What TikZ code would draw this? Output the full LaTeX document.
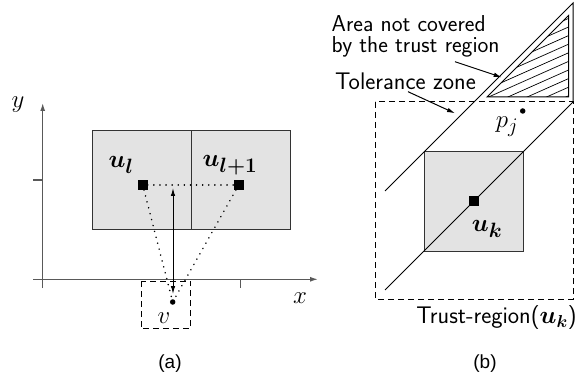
\documentclass[tikz,border=0pt]{standalone}
\usepackage{fontspec}
\usepackage{bm}
\newfontfamily\arialf{Liberation Sans}
\usetikzlibrary{arrows.meta}
\begin{document}
\begin{tikzpicture}[x=1pt,y=-1pt,
  ax/.style={draw=black!65,line width=1.3pt},
  axarrow/.style={ax,-{Latex[length=8pt,width=5pt]}},
  box/.style={draw=black!80,line width=1pt,fill=black!11},
  sq/.style={fill=black,minimum size=10pt,inner sep=0pt,outer sep=0pt},
  pt/.style={circle,fill=black,minimum size=5.5pt,inner sep=0pt},
  dots/.style={line width=1.6pt,dash pattern=on 0.1pt off 6pt,line cap=round},
  dbox/.style={draw,line width=1pt,dash pattern=on 6pt off 4pt},
  lbl/.style={font=\fontsize{24}{20}\selectfont\sffamily,inner sep=0pt},
  sub/.style={font=\fontsize{19}{19}\selectfont\arialf},
  ml/.style={font=\Huge},
  ptr/.style={line width=1pt,-{Latex[length=8pt,width=4.5pt]}}]
\useasboundingbox (0,0) rectangle (588,379);
% panel (a)
\draw[box] (92.7,130.7) rectangle (290,229.3);
\draw[draw=black!80,line width=1pt] (191,130.7) -- (191,229.3);
\draw[ax] (33,180) -- (42.7,180);
\draw[ax] (240.7,279.3) -- (240.7,288);
\draw[axarrow] (42.7,288) -- (42.7,103);
\draw[axarrow] (33,279.3) -- (318,279.3);
\node[ml] (ylab) at (18,105) {$y$};
\node[ml] (xlab) at (300,298) {$x$};
\node[sq] (ul) at (142.7,185) {};
\node[sq] (ul1) at (238.7,185) {};
\node[ml] (ullab) at (121,165) {$\bm{u_l}$};
\node[ml] (ul1lab) at (230,165) {$\bm{u_{l+1}}$};
\node[pt] (v) at (172.7,302) {};
\node[ml] (vlab) at (164,318) {$v$};
\draw[dots] (ul) -- (ul1);
\draw[dots] (ul) -- (v);
\draw[dots] (ul1) -- (v);
\coordinate (atop) at (173,188);
\coordinate (abot) at (173,294);
\draw[line width=1pt,{Latex[length=8pt,width=4.5pt]}-{Latex[length=8pt,width=4.5pt]}] (abot) -- (atop);
\draw[dbox] (141,281) rectangle (190.7,328.7);
\node[sub] (la) at (170,364) {(a)};
% panel (b)
\draw[dbox] (375,102) rectangle (573,299);
\draw[box] (424,152) rectangle (523,251);
\draw[line width=1pt] (385,290) -- (573,102);
\draw[line width=1pt] (385,191) -- (573,3) -- (573,102);
\draw[line width=1pt] (487,97) -- (568.5,97) -- (568.5,15.5) -- cycle;
\begin{scope}
\clip (487,97) -- (568.5,97) -- (568.5,15.5) -- cycle;
\foreach \k in {-4,...,12} \draw[line width=0.7pt] (460,{27+8.6*\k+48.3}) -- (580,{27+8.6*\k-5.1});
\end{scope}
\node[sq] (uk) at (473.5,201.5) {};
\node[ml] (uklab) at (487,229) {$\bm{u_k}$};
\node[pt] (pj) at (522.7,111) {};
\node[ml] (pjlab) at (507,127) {$p_j$};
\node[lbl,font=\fontsize{23}{20}\selectfont\sffamily,anchor=base west] (area1) at (331.5,31.5) {Area not covered};
\node[lbl,font=\fontsize{23}{20}\selectfont\sffamily,anchor=base west] (area2) at (331.5,52.3) {by the trust region};
\node[lbl,anchor=west] (tol) at (335,81.7) {Tolerance zone};
\node[lbl] (tr) at (496.5,318) {Trust-region($\bm{u_k}$)};
\node[sub] (lb) at (485,364) {(b)};
\coordinate (a1) at (455,61.7);
\coordinate (a2) at (501.7,77.3);
\coordinate (t1) at (408,91.7);
\coordinate (t2) at (455,113.3);
\draw[ptr] (a1) -- (a2);
\draw[ptr] (t1) -- (t2);
\end{tikzpicture}
\end{document}
